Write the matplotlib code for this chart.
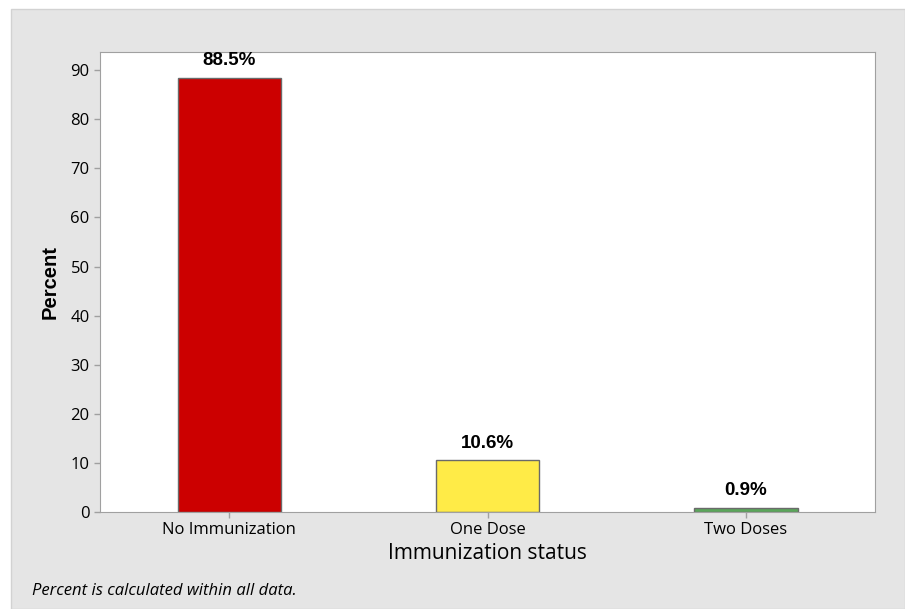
import matplotlib.pyplot as plt
from matplotlib.patches import Rectangle

# data
categories = ['No Immunization', 'One Dose', 'Two Doses']
percents = [88.5, 10.6, 0.9]
bar_colors = ['#cc0000', '#ffeb47', '#5aa65a']

plt.rcParams['font.family'] = ['Open Sans', 'DejaVu Sans']
bold_family = ['Liberation Sans', 'DejaVu Sans']

fig = plt.figure(figsize=(9.05, 6.09), dpi=100)
fig.patch.set_facecolor('white')

# gray Minitab-like panel behind the graph
panel = Rectangle((11/905, 0), 1 - 11/905, (609 - 9)/609, transform=fig.transFigure,
                  facecolor='#e5e5e5', edgecolor='#d2d2d2', linewidth=1, zorder=-10)
fig.patches.append(panel)

ax = fig.add_axes([100/905, 97/609, 775/905, 460/609])
ax.set_facecolor('white')

x = list(range(len(categories)))
ax.bar(x, percents, width=0.4, color=bar_colors, edgecolor='#6a6a6a', linewidth=1)

for xi, p in zip(x, percents):
    ax.annotate(f'{p}%', (xi, p), textcoords='offset points', xytext=(0, 6),
                ha='center', va='bottom', fontsize=13.5, fontweight='bold',
                family=bold_family)

ax.set_xlim(-0.5, 2.5)
ax.set_ylim(0, 93.7)
ax.set_yticks(range(0, 91, 10))
ax.set_xticks(x)
ax.set_xticklabels(categories)

ax.tick_params(axis='both', colors='#a0a0a0', labelcolor='black', labelsize=12, length=4, width=1)
for s in ax.spines.values():
    s.set_color('#a0a0a0')

ax.set_xlabel('Immunization status', fontsize=15, labelpad=3)
ax.set_ylabel('Percent', fontsize=14.5, fontweight='bold', labelpad=8, family=bold_family)

fig.text(32/905, 1 - 591/609, 'Percent is calculated within all data.', fontsize=12,
         style='italic', va='center', ha='left')

fig.savefig('out.png', dpi=100)
